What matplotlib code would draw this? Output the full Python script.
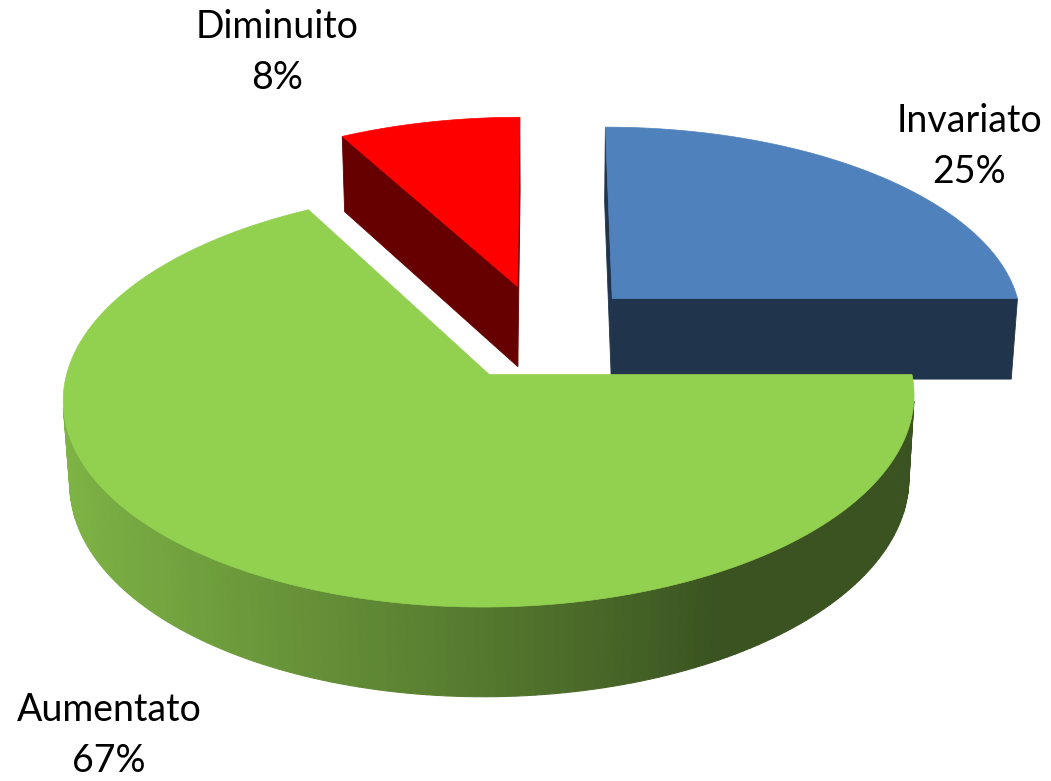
import numpy as np
import matplotlib.pyplot as plt
from matplotlib.patches import Polygon

# Survey breakdown, clockwise from 12 o'clock
labels = ['Invariato', 'Aumentato', 'Diminuito']
values = [25, 67, 8]
top_colors = ['#4F81BD', '#92D050', '#FF0000']
label_pos = [(969, 121), (109, 710), (277, 27)]

# 3D view settings
elev = np.radians(28.5)
dist = 8.03
focal = 3316
cx, cy = 542, 332
thick = 0.228
explode = 0.245

sn, cs = np.sin(elev), np.cos(elev)


def project(X, Y, Z):
    zc = dist - Y * sn + Z * cs
    return cx + focal * X / zc, cy - focal * (Y * cs + Z * sn) / zc


def shade(color, f):
    rgb = np.array(plt.matplotlib.colors.to_rgb(color))
    return tuple(np.clip(rgb * f, 0, 1))


def wall_factor(a):
    # light comes from the left, right/front walls fall into shadow
    a = np.degrees(a) % 360
    return 0.4 + 0.47 * max(0.0, np.cos(np.radians((a - 180) * 0.75)))


cam = np.array([0.0, dist * sn, -dist * cs])

fig = plt.figure(figsize=(10.51, 7.81), dpi=100)
ax = fig.add_axes([0, 0, 1, 1])
ax.set_xlim(0, 1051)
ax.set_ylim(781, 0)
ax.axis('off')

slices = []
start = 90.0
for lab, v, col in zip(labels, values, top_colors):
    a0 = np.radians(start - v * 3.6)
    a1 = np.radians(start)
    mid = (a0 + a1) / 2
    ox, oz = explode * np.cos(mid), explode * np.sin(mid)
    slices.append((lab, v, col, a0, a1, ox, oz))
    start -= v * 3.6

# far slices first
for lab, v, col, a0, a1, ox, oz in sorted(slices, key=lambda s: -s[6]):
    ang = np.linspace(a0, a1, 200)
    xs = ox + np.cos(ang)
    zs = oz + np.sin(ang)

    # radial cut faces
    for a, sign in ((a0, 1), (a1, -1)):
        n = np.array([sign * np.sin(a), 0, -sign * np.cos(a)])
        p = np.array([ox, 0, oz])
        if np.dot(cam - p, n) > 0:
            ex, ez = ox + np.cos(a), oz + np.sin(a)
            pts = [project(ox, 0, oz), project(ex, 0, ez),
                   project(ex, -thick, ez), project(ox, -thick, oz)]
            ax.add_patch(Polygon(pts, closed=True, fc=shade(col, 0.4),
                                 ec=shade(col, 0.4), lw=0.6))

    # outer curved wall
    for i in range(len(ang) - 1):
        am = (ang[i] + ang[i + 1]) / 2
        p = np.array([ox + np.cos(am), 0, oz + np.sin(am)])
        n = np.array([np.cos(am), 0, np.sin(am)])
        if np.dot(cam - p, n) <= 0:
            continue
        pts = [project(xs[i], 0, zs[i]), project(xs[i + 1], 0, zs[i + 1]),
               project(xs[i + 1], -thick, zs[i + 1]), project(xs[i], -thick, zs[i])]
        c = shade(col, wall_factor(am))
        ax.add_patch(Polygon(pts, closed=True, fc=c, ec=c, lw=0.8))

    # top face
    top = [project(ox, 0, oz)] + [project(x, 0, z) for x, z in zip(xs, zs)]
    ax.add_patch(Polygon(top, closed=True, fc=col, ec=col, lw=0.5))

for (lab, v, col, *_), (tx, ty) in zip(slices, label_pos):
    ax.text(tx, ty, lab, ha='center', va='center', fontsize=27,
            family='Lato', color='black')
    ax.text(tx, ty + 51, f'{v}%', ha='center', va='center', fontsize=27,
            family='Lato', color='black')

fig.savefig('out.png', dpi=100)
